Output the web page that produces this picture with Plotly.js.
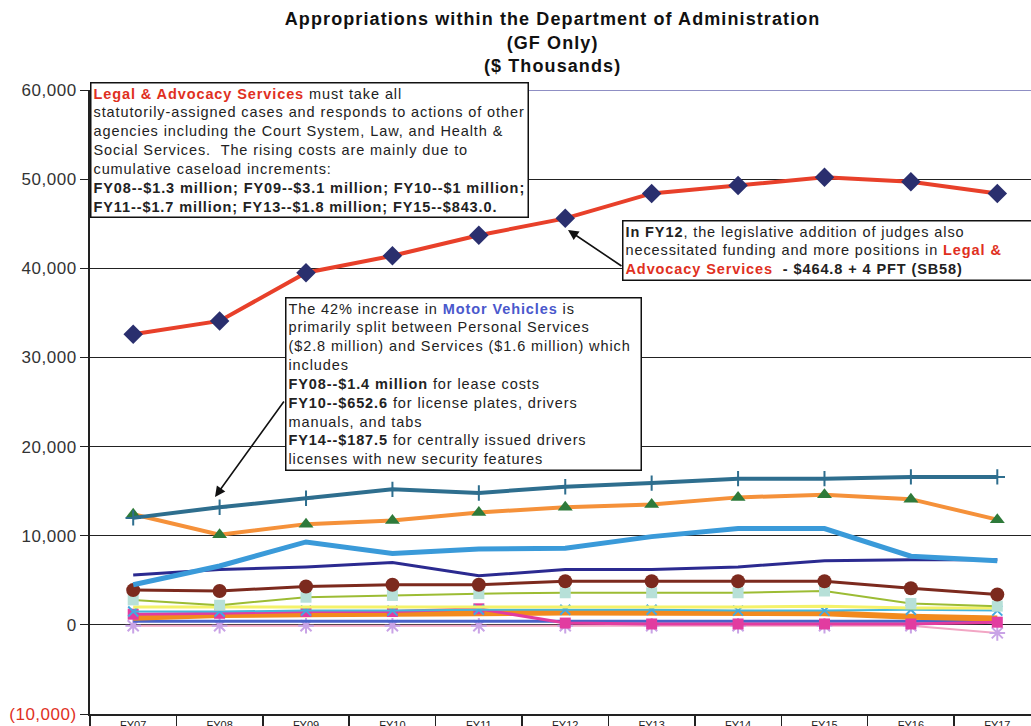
<!DOCTYPE html>
<html><head><meta charset="utf-8">
<script src="https://cdn.plot.ly/plotly-3.0.1.min.js"></script>
<style>
html,body{margin:0;padding:0;overflow:hidden;background:#fff}
text.annotation-text{letter-spacing:0.9px}
.ytick text{letter-spacing:0.5px}
text.gtitle{letter-spacing:1.1px}
</style>
</head><body><div id="chart" style="width:1031px;height:726px"></div>
<script>
const years = ["FY07","FY08","FY09","FY10","FY11","FY12","FY13","FY14","FY15","FY16","FY17"];
const legalAdvocacy = [32600,34100,39500,41400,43700,45600,48400,49300,50200,49700,48400];
const tealSeries    = [12000,13200,14200,15200,14800,15500,15900,16400,16400,16600,16600];
const orangeTri     = [12400,10100,11300,11700,12600,13200,13500,14300,14600,14100,11800];
const motorVehicles = [4500,6600,9300,8000,8500,8600,9900,10800,10800,7700,7200];
const navySeries    = [5600,6200,6500,7000,5500,6200,6200,6500,7200,7300,7300];
const brownSeries   = [3900,3800,4300,4500,4500,4900,4900,4900,4900,4100,3400];
const oliveSeries   = [2800,2200,3100,3300,3500,3600,3600,3600,3800,2400,2100];
const yellowSeries  = [2000,2000,2000,2000,2000,2000,2000,2000,2100,1900,1900];
const cyanSeries    = [1500,1500,1600,1600,1700,1700,1700,1600,1600,1700,1600];
const orangeLow     = [800,1100,1200,1200,1300,1400,1400,1300,1300,900,700];
const magentaSeries = [1200,1300,1500,1500,1800,200,100,100,100,100,300];
const blueSeries    = [400,400,400,400,400,400,400,400,400,400,500];
const pinkSeries    = [-100,-100,-100,-100,-100,-100,-100,-100,-100,-100,-900];
const yTickVals = [-10000,0,10000,20000,30000,40000,50000,60000];
const yTickText = ['<span style="color:#e0301e">(10,000)</span>','0','10,000','20,000','30,000','40,000','50,000','60,000'];

function tr(y, color, width, marker){
  const t = {x: years, y: y, type:'scatter', mode: marker ? 'lines+markers':'lines',
    line:{color:color, width:width}, hoverinfo:'skip'};
  if (marker) t.marker = marker;
  return t;
}
const data = [
  tr(pinkSeries,'#f2a6c4',2,{symbol:'asterisk-open',size:13,color:'#c9a3e6',line:{color:'#d9a0e0',width:2}}),
  tr(blueSeries,'#4a62c8',3),
  tr(orangeLow,'#f28a1e',6),
  tr(magentaSeries,'#e23ca0',3,{symbol:'square',size:11,color:'#e23ca0'}),
  tr(cyanSeries,'#45b4dc',2,{symbol:'x-thin-open',size:10,color:'#45a8e0',line:{color:'#45a8e0',width:2}}),
  tr(yellowSeries,'#f4f26a',3),
  tr(oliveSeries,'#9cbc34',2,{symbol:'square',size:11,color:'#b7e0d8'}),
  tr(brownSeries,'#7c2a1e',3,{symbol:'circle',size:14,color:'#7c2a1e'}),
  tr(navySeries,'#2b2a90',3),
  tr(motorVehicles,'#3a9ad9',5),
  tr(orangeTri,'#f5913a',4,{symbol:'triangle-up',size:13,color:'#2e7a3a'}),
  tr(tealSeries,'#2e6e8e',4,{symbol:'cross-thin-open',size:11,color:'#2e6e8e',line:{color:'#2e6e8e',width:2}}),
  tr(legalAdvocacy,'#e8402a',4,{symbol:'diamond',size:15,color:'#2a2f6e'})
];

const RED = '#e0301e', BLUE = '#4a58cc';
const box1 = '<span style="color:'+RED+'"><b>Legal &amp; Advocacy Services</b></span> must take all<br>'+
  'statutorily-assigned cases and responds to actions of other<br>'+
  'agencies including the Court System, Law, and Health &amp;<br>'+
  'Social Services.  The rising costs are mainly due to<br>'+
  'cumulative caseload increments:<br>'+
  '<b>FY08--$1.3 million; FY09--$3.1 million; FY10--$1 million;</b><br>'+
  '<b>FY11--$1.7 million; FY13--$1.8 million; FY15--$843.0.</b>';
const box2 = '<b>In FY12</b>, the legislative addition of judges also<br>'+
  'necessitated funding and more positions in <span style="color:'+RED+'"><b>Legal &amp;</b></span><br>'+
  '<span style="color:'+RED+'"><b>Advocacy Services</b></span>  <b>- $464.8 + 4 PFT (SB58)</b>';
const box3 = 'The 42% increase in <span style="color:'+BLUE+'"><b>Motor Vehicles</b></span> is<br>'+
  'primarily split between Personal Services<br>'+
  '($2.8 million) and Services ($1.6 million) which<br>'+
  'includes<br>'+
  '<b>FY08--$1.4 million</b> for lease costs<br>'+
  '<b>FY10--$652.6</b> for license plates, drivers<br>'+
  'manuals, and tabs<br>'+
  '<b>FY14--$187.5</b> for centrally issued drivers<br>'+
  'licenses with new security features';

const FONT = 'Liberation Sans, Arial, sans-serif';
const annFont = {family:FONT, size:14.5, color:'#222'};
const layout = {
  width:1031, height:726,
  margin:{l:90, r:0, t:90, b:12},
  paper_bgcolor:'#fff', plot_bgcolor:'#fff',
  showlegend:false,
  font:{family:FONT, color:'#222'},
  title:{text:'<b>Appropriations within the Department of Administration<br>(GF Only)<br>($ Thousands)</b>',
    font:{family:FONT, size:18, color:'#111'}, x:0.536, xanchor:'center', y:0.965, yanchor:'top'},
  xaxis:{type:'category', range:[-0.5,10.39], showgrid:false, zeroline:false,
    showline:true, linecolor:'#222', linewidth:2,
    ticks:'outside', tickson:'boundaries', ticklen:14, tickcolor:'#222', tickwidth:1.5,
    tickfont:{family:FONT, size:11, color:'#222'}},
  yaxis:{range:[-10000,60000], tickvals:yTickVals, ticktext:yTickText,
    showgrid:true, gridcolor:'#222', gridwidth:1.2, zeroline:false,
    showline:true, linecolor:'#222', linewidth:2,
    ticks:'outside', ticklen:8, tickcolor:'#222',
    tickfont:{family:FONT, size:17, color:'#333'}},
  shapes:[{type:'line', xref:'paper', yref:'y', x0:0, x1:1, y0:60000, y1:60000,
    line:{color:'#6a6ab0', width:1.5}}],
  annotations:[
    {xref:'paper', yref:'paper', x:(215-90)/941, y:(714-497)/624, text:'', showarrow:true,
      ax:70, ay:-97, arrowhead:2, arrowsize:1.3, arrowwidth:1.6, arrowcolor:'#111'},
    {xref:'paper', yref:'paper', x:(568-90)/941, y:(714-230)/624, text:'', showarrow:true,
      ax:55, ay:37, arrowhead:2, arrowsize:1.3, arrowwidth:1.6, arrowcolor:'#111'},
    {xref:'paper', yref:'paper', x:0, y:(714-82)/624, xanchor:'left', yanchor:'top',
      text:box1, showarrow:false, align:'left', font:annFont,
      bgcolor:'#fff', bordercolor:'#111', borderwidth:1.5, borderpad:2},
    {xref:'paper', yref:'paper', x:(622-90)/941, y:(714-220)/624, xanchor:'left', yanchor:'top',
      text:box2, showarrow:false, align:'left', font:annFont, width:430,
      bgcolor:'#fff', bordercolor:'#111', borderwidth:1.5, borderpad:2},
    {xref:'paper', yref:'paper', x:(285-90)/941, y:(714-297)/624, xanchor:'left', yanchor:'top',
      text:box3, showarrow:false, align:'left', font:annFont, width:350,
      bgcolor:'#fff', bordercolor:'#111', borderwidth:1.5, borderpad:2}
  ]
};
Plotly.newPlot('chart', data, layout, {staticPlot:true, displayModeBar:false});
</script></body></html>
